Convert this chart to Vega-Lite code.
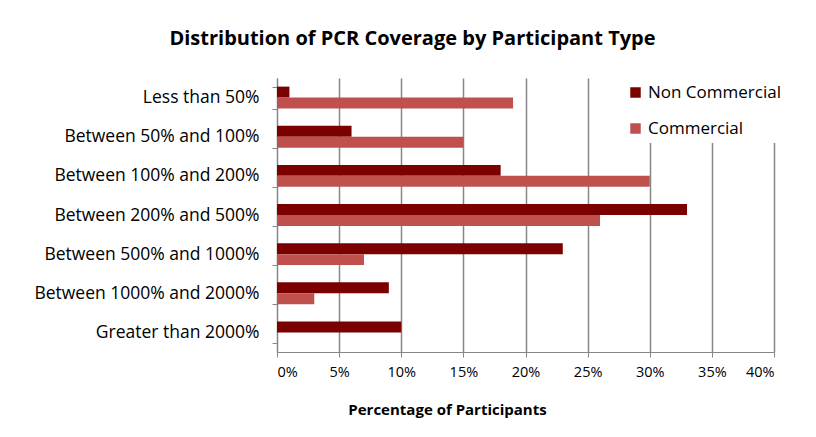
{
  "$schema": "https://vega.github.io/schema/vega-lite/v6.json",
  "width": 497,
  "height": 274,
  "autosize": "none",
  "padding": {"left": 277, "top": 78, "right": 42, "bottom": 85},
  "background": "white",
  "title": {
    "text": "Distribution of PCR Coverage by Participant Type",
    "font": "Open Sans",
    "fontSize": 20,
    "fontWeight": "bold",
    "color": "#000000",
    "anchor": "middle",
    "dx": -113,
    "offset": 20
  },
  "data": {
    "values": [
      {"category": "Less than 50%", "series": "Non Commercial", "value": 1},
      {"category": "Less than 50%", "series": "Commercial", "value": 19},
      {"category": "Between 50% and 100%", "series": "Non Commercial", "value": 6},
      {"category": "Between 50% and 100%", "series": "Commercial", "value": 15},
      {"category": "Between 100% and 200%", "series": "Non Commercial", "value": 18},
      {"category": "Between 100% and 200%", "series": "Commercial", "value": 30},
      {"category": "Between 200% and 500%", "series": "Non Commercial", "value": 33},
      {"category": "Between 200% and 500%", "series": "Commercial", "value": 26},
      {"category": "Between 500% and 1000%", "series": "Non Commercial", "value": 23},
      {"category": "Between 500% and 1000%", "series": "Commercial", "value": 7},
      {"category": "Between 1000% and 2000%", "series": "Non Commercial", "value": 9},
      {"category": "Between 1000% and 2000%", "series": "Commercial", "value": 3},
      {"category": "Greater than 2000%", "series": "Non Commercial", "value": 10},
      {"category": "Greater than 2000%", "series": "Commercial", "value": 0}
    ]
  },
  "mark": {"type": "bar", "stroke": null},
  "encoding": {
    "y": {
      "field": "category",
      "type": "nominal",
      "sort": null,
      "scale": {"paddingInner": 0.44, "paddingOuter": 0.22},
      "axis": {
        "title": null,
        "labelFont": "Open Sans",
        "labelFontSize": 17.5,
        "labelColor": "#000000",
        "labelPadding": 13,
        "labelLimit": 300,
        "tickBand": "extent",
        "tickSize": 5,
        "tickColor": "#868686",
        "domainColor": "#868686",
        "grid": false
      }
    },
    "x": {
      "field": "value",
      "type": "quantitative",
      "scale": {"domain": [0, 40], "nice": false},
      "axis": {
        "title": "Percentage of Participants",
        "titleFont": "Open Sans",
        "titleFontSize": 15,
        "titleFontWeight": "bold",
        "titleColor": "#000000",
        "titlePadding": 24,
        "titleAnchor": "middle",
        "titleX": 170,
        "values": [0, 5, 10, 15, 20, 25, 30, 35, 40],
        "labelExpr": "datum.value + '%'",
        "labelFont": "Open Sans",
        "labelFontSize": 14.5,
        "labelColor": "#000000",
        "labelPadding": 8,
        "tickSize": 5,
        "tickColor": "#868686",
        "domainColor": "#868686",
        "grid": true,
        "gridColor": "#868686",
        "gridWidth": 1.5
      }
    },
    "yOffset": {
      "field": "series",
      "type": "nominal",
      "scale": {"domain": ["Non Commercial", "Commercial"]}
    },
    "color": {
      "field": "series",
      "type": "nominal",
      "scale": {"domain": ["Non Commercial", "Commercial"], "range": ["#7B0000", "#C0504D"]},
      "legend": {
        "title": null,
        "orient": "none",
        "legendX": 344,
        "legendY": 0,
        "padding": 6,
        "fillColor": "white",
        "strokeColor": null,
        "symbolType": "square",
        "symbolSize": 110,
        "symbolStrokeWidth": 0,
        "labelFont": "Open Sans",
        "labelFontSize": 17,
        "labelColor": "#000000",
        "rowPadding": 18,
        "labelOffset": 4
      }
    }
  },
  "config": {
    "view": {"stroke": null}
  }
}
